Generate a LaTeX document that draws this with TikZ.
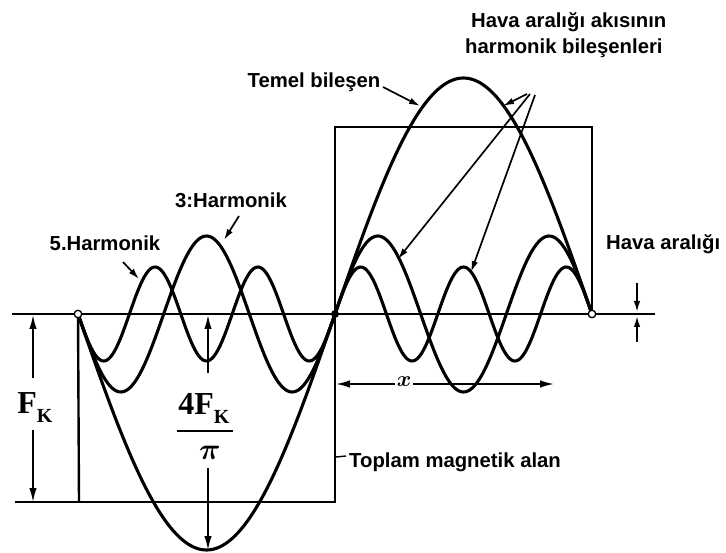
\RequirePackage{fix-cm}
\documentclass[tikz,border=0pt]{standalone}
\usepackage{fontspec}
\newfontfamily\lab{Liberation Sans}
\newfontfamily\serb{Liberation Serif}
\usepackage{bm}
\usetikzlibrary{arrows.meta}
\begin{document}
\begin{tikzpicture}[x=1pt,y=-1pt,
  curve/.style={line width=3.1pt},
  sq/.style={line width=2.4pt},
  ax/.style={line width=2pt},
  dim/.style={line width=1.7pt,-{Latex[length=14pt,width=7.5pt]}},
  lead/.style={line width=1.7pt,-{Latex[length=11pt,width=6.5pt]}},
  lbl/.style={font=\lab\bfseries\fontsize{20.3}{26}\selectfont,inner sep=0pt},
  mth/.style={font=\serb\bfseries\fontsize{32}{34}\selectfont,inner sep=0pt},
  ring/.style={circle,draw,fill=white,line width=1.3pt,minimum size=7.5pt,inner sep=0pt},
  dot/.style={circle,fill=black,minimum size=8pt,inner sep=0pt}]
\useasboundingbox (0,0) rectangle (726,553);
% axis and square wave
\coordinate (axL) at (12,314);
\coordinate (axR) at (655,314);
\coordinate (P0) at (78,314);
\coordinate (Pm) at (335,314);
\coordinate (P1) at (592,314);
\coordinate (sqBL) at (79,502);
\coordinate (bL) at (15,502);
\coordinate (sqBM) at (335,502);
\coordinate (sqTM) at (335,127);
\coordinate (sqTR) at (592,127);
\draw[ax] (axL) -- (axR);
\draw[sq] (P0) -- (sqBL);
\draw[sq] (bL) -- (sqBM) -- (sqTM) -- (sqTR) -- (P1);
% harmonic curves (theta in degrees from -180 to 180)
\draw[curve] plot[domain=-180:180,samples=200] ({78+(\x+180)*1.42778},{314-236*sin(\x)});
\draw[curve] plot[domain=-180:180,samples=260] ({78+(\x+180)*1.42778},{314-78*sin(3*\x)});
\draw[curve] plot[domain=-180:180,samples=320] ({78+(\x+180)*1.42778},{314-47*sin(5*\x)});
\node[ring] (c0) at (P0) {};
\node[ring] (c1) at (P1) {};
\node[dot] (cm) at (Pm) {};
% F_K dimension
\node[mth] (fk) at (35,408) {F\raisebox{-9pt}{\fontsize{20}{20}\selectfont K}};
\coordinate (fkU) at (33,378); \coordinate (fkUt) at (33,315);
\coordinate (fkD) at (33,430); \coordinate (fkDt) at (33,502);
\draw[dim] (fkU) -- (fkUt);
\draw[dim] (fkD) -- (fkDt);
% 4F_K / pi
\node[mth] (num) at (204,408) {4F\raisebox{-9pt}{\fontsize{20}{20}\selectfont K}};
\coordinate (barL) at (177,431); \coordinate (barR) at (233,431);
\draw[line width=2.2pt] (barL) -- (barR);
\node[font=\fontsize{30}{32}\selectfont,inner sep=0pt] (pi) at (210,453) {$\bm{\pi}$};
\coordinate (aU) at (208,373); \coordinate (aUt) at (208,315);
\coordinate (aD) at (208,468); \coordinate (aDt) at (208,550);
\draw[dim] (aU) -- (aUt);
\draw[dim] (aD) -- (aDt);
% x dimension
\node[font=\fontsize{22}{24}\selectfont,inner sep=2pt] (xl) at (404,382) {$\bm{x}$};
\coordinate (xL) at (336,384); \coordinate (xR) at (554,384);
\draw[dim] (xl.west |- xL) -- (xL);
\draw[dim] (xl.east |- xR) -- (xR);
% air gap arrows
\coordinate (gA) at (637,283); \coordinate (gAt) at (637,312);
\coordinate (gB) at (637,342); \coordinate (gBt) at (637,316);
\draw[lead] (gA) -- (gAt);
\draw[lead] (gB) -- (gBt);
% labels
\node[lbl] (temel) at (314,82) {Temel bileşen};
\node[lbl,anchor=west] (hv1) at (471,22) {Hava aralığı akısının};
\node[lbl,anchor=west] (hv2) at (465,48) {harmonik bileşenleri};
\node[lbl] (h3) at (231,200) {3:Harmonik};
\node[lbl] (h5) at (105,243) {5.Harmonik};
\node[lbl,anchor=west] (top) at (349,462) {Toplam magnetik alan};
\node[lbl,anchor=west] (hv3) at (606,244) {Hava aralığı};
% leader arrows
\coordinate (tA) at (383,87); \coordinate (tAt) at (420,106);
\draw[lead] (tA) -- (tAt);
\coordinate (h5A) at (123,262); \coordinate (h5At) at (139,279);
\draw[lead] (h5A) -- (h5At);
\coordinate (h3A) at (239,216); \coordinate (h3At) at (224,240);
\draw[lead] (h3A) -- (h3At);
\coordinate (k1) at (527,94); \coordinate (k1t) at (503,106);
\coordinate (k2) at (530,94); \coordinate (k2t) at (398,259);
\coordinate (k3) at (535,95); \coordinate (k3t) at (471,272);
\draw[lead] (k1) -- (k1t);
\draw[lead] (k2) -- (k2t);
\draw[lead] (k3) -- (k3t);
% Toplam leader
\coordinate (tpA) at (336,457); \coordinate (tpB) at (346,456);
\draw[line width=1.4pt] (tpA) -- (tpB);
\end{tikzpicture}
\end{document}
